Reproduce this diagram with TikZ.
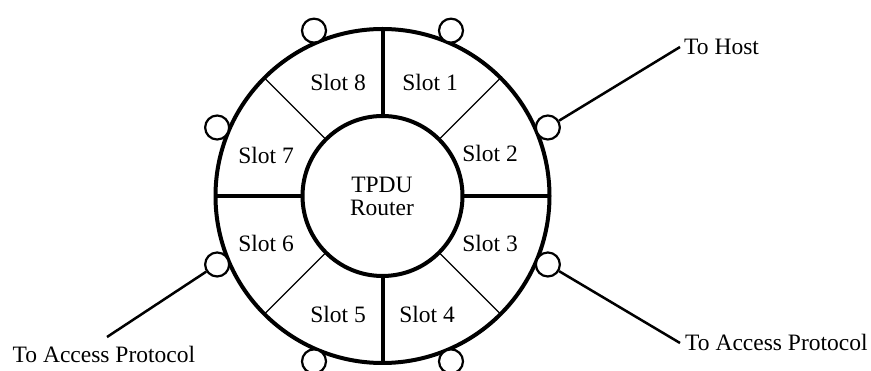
\documentclass[tikz,border=0pt]{standalone}
\usepackage{fontspec}
\setmainfont{Liberation Serif}
\usetikzlibrary{calc}
\begin{document}
\begin{tikzpicture}[x=1pt,y=-1pt,
  thick ring/.style={line width=4pt},
  thin div/.style={line width=1.1pt},
  port/.style={circle,draw,fill=white,line width=2.2pt,minimum size=24pt,inner sep=0pt},
  wire/.style={line width=2.5pt},
  txt/.style={font=\fontsize{23.5}{26}\selectfont,inner sep=0pt}]
\useasboundingbox (0,0) rectangle (871,371);
\coordinate (c) at (382.5,196);
% ring and hub
\draw[thick ring] (c) circle[radius=167];
\draw[thick ring] (c) circle[radius=80];
\foreach \a in {0,90,180,270}
  \draw[thick ring] ($(c)+(\a:80)$) -- ($(c)+(\a:167)$);
\foreach \a in {45,135,225,315}
  \draw[thin div] ($(c)+(\a:81)$) -- ($(c)+(\a:166)$);
% slot labels
\node[txt] (s1) at (430,82) {Slot 1};
\node[txt] (s2) at (490,153) {Slot 2};
\node[txt] (s3) at (490,243) {Slot 3};
\node[txt] (s4) at (427,314) {Slot 4};
\node[txt] (s5) at (338,314) {Slot 5};
\node[txt] (s6) at (266,243) {Slot 6};
\node[txt] (s7) at (266,155) {Slot 7};
\node[txt] (s8) at (338,82) {Slot 8};
\node[txt,align=center] (hub) at (382,196) {TPDU\\[-3pt]Router};
% ports around the ring (y axis points down, so angles run clockwise)
\foreach \n/\a in {1/-67.5,2/-22.5,3/22.5,4/67.5,5/112.5,6/157.5,7/202.5,8/247.5}
  \node[port] (p\n) at ($(c)+(\a:179)$) {};
% external connections
\node[txt,anchor=base west] (host) at (684,55) {To Host};
\node[txt,anchor=base west] (accR) at (685,351) {To Access Protocol};
\node[txt,anchor=base west] (accL) at (12.5,363) {To Access Protocol};
\coordinate (hostEnd) at (680,47);
\coordinate (accREnd) at (680,343);
\coordinate (accLEnd) at (107,337);
\draw[wire] (p2) -- (hostEnd);
\draw[wire] (p3) -- (accREnd);
\draw[wire] (p6) -- (accLEnd);
\end{tikzpicture}
\end{document}
